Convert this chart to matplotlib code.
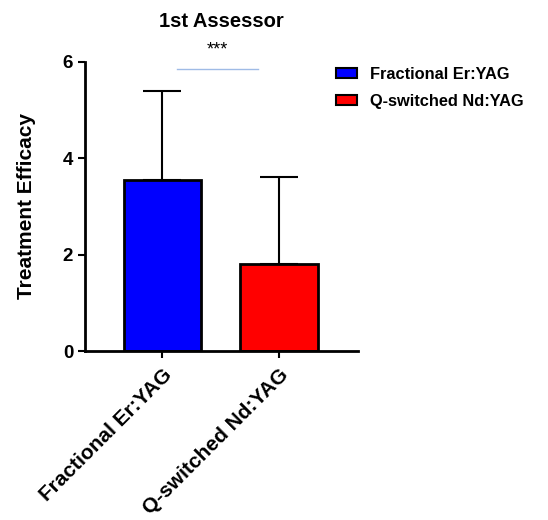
import numpy as np
import matplotlib.pyplot as plt
from matplotlib.patches import Patch

plt.rcParams['font.family'] = ['Liberation Sans', 'DejaVu Sans']
plt.rcParams['font.weight'] = 'bold'

groups = ['Fractional Er:YAG', 'Q-switched Nd:YAG']
means = [3.55, 1.80]
sds = [1.85, 1.82]
colors = ['#0000ff', '#ff0000']

fig = plt.figure(figsize=(5.48, 5.2), dpi=100)
ax = fig.add_axes([0.155, 0.325, 0.498, 0.556])

x = np.arange(len(groups))
ax.bar(x, means, width=0.66, color=colors, edgecolor='black', linewidth=2, zorder=2)
ax.errorbar(x, means, yerr=[np.zeros(len(sds)), sds], fmt='none', ecolor='black',
            elinewidth=1.5, capsize=14, capthick=1.5, zorder=1)

ax.set_xlim(-0.66, 1.675)
ax.set_ylim(0, 6)
ax.set_yticks([0, 2, 4, 6])
ax.set_xticks(x)
ax.tick_params(axis='y', labelsize=13.5, width=1.5, length=5)
ax.tick_params(axis='x', width=1.5, length=5, pad=5)
ax.set_xticklabels(groups)
plt.setp(ax.get_xticklabels(), rotation=45, ha='right', rotation_mode='anchor',
         fontsize=15, fontweight='bold')
plt.setp(ax.get_yticklabels(), fontweight='bold')
for s in ['top', 'right']:
    ax.spines[s].set_visible(False)
for s in ['left', 'bottom']:
    ax.spines[s].set_linewidth(2)

ax.set_ylabel('Treatment Efficacy', fontsize=15, fontweight='bold', labelpad=19)
ax.set_title('1st Assessor', fontsize=14.5, fontweight='bold', pad=25)

# significance bar
ax.plot([0.13, 0.82], [5.85, 5.85], color='#9fbbe6', linewidth=1, clip_on=False)
ax.text(0.475, 6.08, '***', ha='center', va='bottom', fontsize=13, fontweight='normal')

handles = [Patch(facecolor=c, edgecolor='black', linewidth=1.5) for c in colors]
fig.legend(handles, groups, loc='upper left', bbox_to_anchor=(0.586, 0.9), frameon=False,
           prop={'size': 11.8, 'weight': 'bold'}, handlelength=1.3, handleheight=0.6,
           labelspacing=0.75)

fig.savefig('out.png', dpi=100)
